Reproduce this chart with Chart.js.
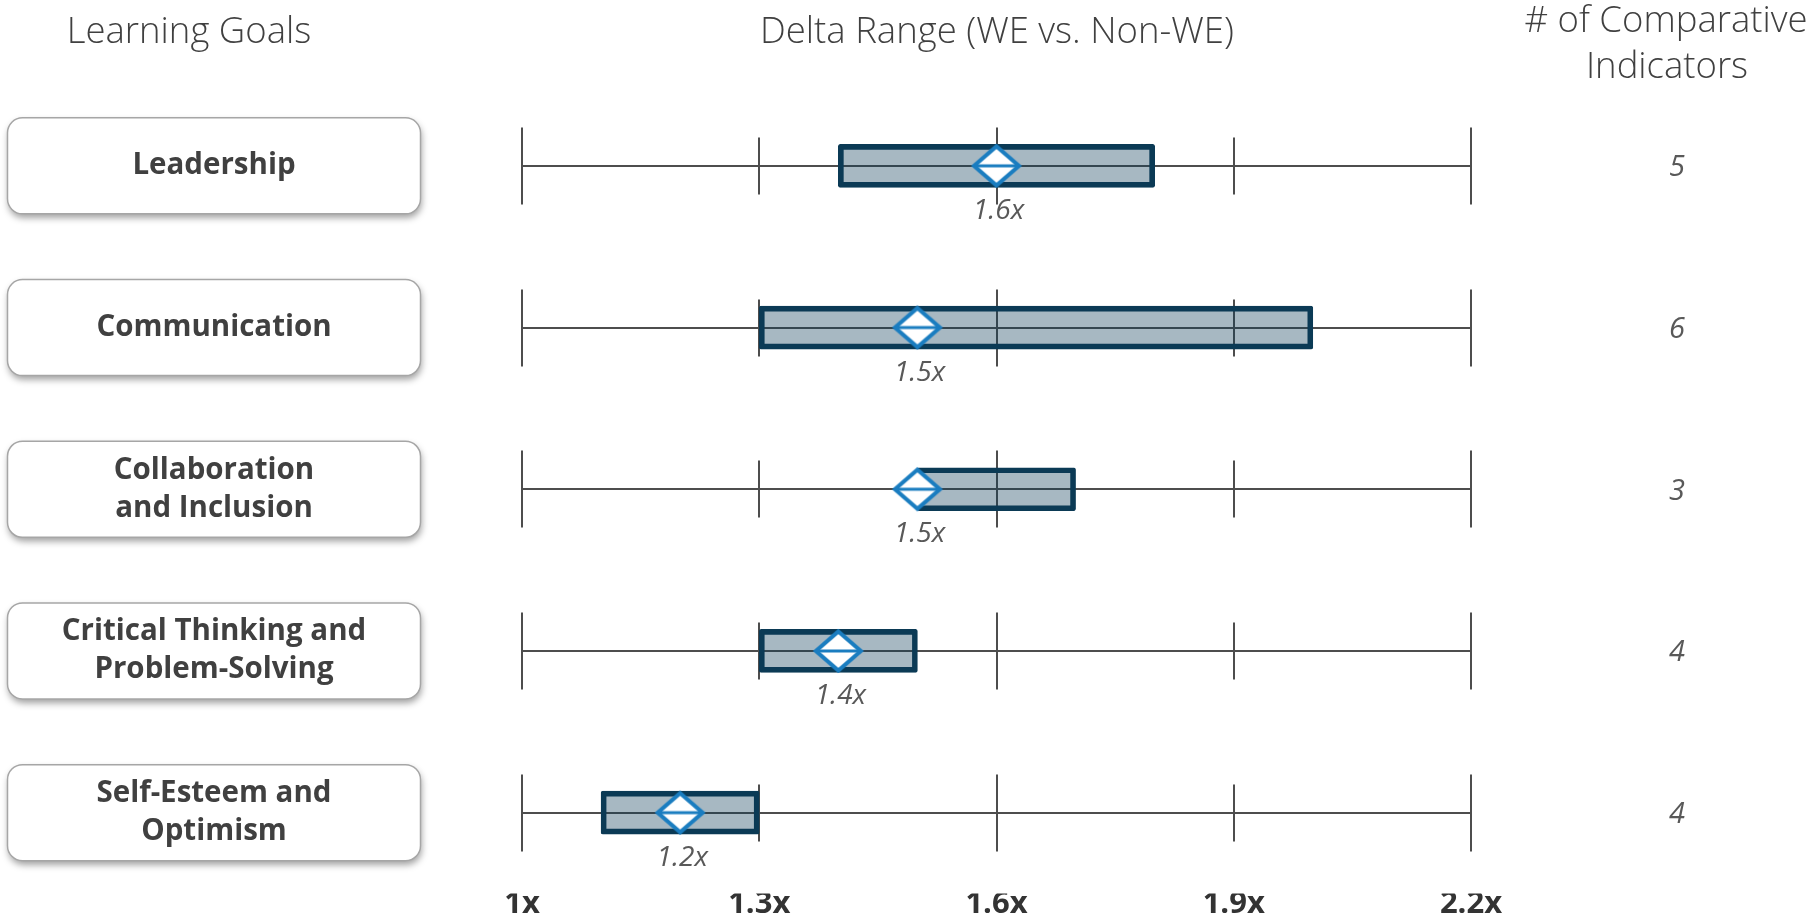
<!DOCTYPE html>
<html>
<head>
<meta charset="utf-8">
<title>Delta Range by Learning Goal</title>
<script src="https://cdn.jsdelivr.net/npm/chart.js@4.4.1/dist/chart.umd.min.js"></script>
<style>
  html, body { margin: 0; padding: 0; background: #fff; }
  #wrap { position: relative; width: 1815px; height: 919px; }
</style>
</head>
<body>
<div id="wrap"><canvas id="myChart" width="1815" height="919"></canvas></div>
<script>
'use strict';

let goals = [['Leadership'], ['Communication'], ['Collaboration', 'and Inclusion'], ['Critical Thinking and', 'Problem-Solving'], ['Self-Esteem and', 'Optimism']];
let lowValues = [1.4, 1.3, 1.5, 1.3, 1.1];
let highValues = [1.8, 2.0, 1.7, 1.5, 1.3];
let meanValues = [1.6, 1.5, 1.5, 1.4, 1.2];
let indicatorCounts = [5, 6, 3, 4, 4];
let axisTicks = [1, 1.3, 1.6, 1.9, 2.2];

// white diamond with a blue outline and a line through the middle
function makeDiamond() {
  let c = document.createElement('canvas');
  c.width = 60;
  c.height = 52;
  let g = c.getContext('2d');
  let cx = 30, cy = 26, hw = 22.5, hh = 19.5;
  g.beginPath();
  g.moveTo(cx, cy - hh);
  g.lineTo(cx + hw, cy);
  g.lineTo(cx, cy + hh);
  g.lineTo(cx - hw, cy);
  g.closePath();
  g.fillStyle = '#ffffff';
  g.fill();
  g.lineWidth = 4;
  g.strokeStyle = '#1a7dc0';
  g.stroke();
  g.beginPath();
  g.moveTo(cx - hw, cy);
  g.lineTo(cx + hw, cy);
  g.lineWidth = 3;
  g.stroke();
  return c;
}

function roundRect(ctx, x, y, w, h, r) {
  ctx.beginPath();
  ctx.moveTo(x + r, y);
  ctx.arcTo(x + w, y, x + w, y + h, r);
  ctx.arcTo(x + w, y + h, x, y + h, r);
  ctx.arcTo(x, y + h, x, y, r);
  ctx.arcTo(x, y, x + w, y, r);
  ctx.closePath();
}

// per-row baseline with tick marks, drawn under the bars
const rowRulers = {
  id: 'rowRulers',
  beforeDatasetsDraw(chart) {
    const { ctx, scales: { x, y } } = chart;
    ctx.save();
    ctx.strokeStyle = '#4d4d4d';
    ctx.lineWidth = 2;
    goals.forEach((g, i) => {
      const py = Math.round(y.getPixelForValue(i));
      ctx.beginPath();
      ctx.moveTo(x.getPixelForValue(axisTicks[0]), py);
      ctx.lineTo(x.getPixelForValue(axisTicks[axisTicks.length - 1]), py);
      axisTicks.forEach((t, k) => {
        const px = Math.round(x.getPixelForValue(t));
        const half = k % 2 === 0 ? 38.5 : 28.5;
        ctx.moveTo(px, py - half);
        ctx.lineTo(px, py + half);
      });
      ctx.stroke();
    });
    ctx.restore();
  }
};

// headers, goal boxes, value labels and indicator counts
const sideText = {
  id: 'sideText',
  afterDatasetsDraw(chart) {
    const { ctx, scales: { x, y } } = chart;
    ctx.save();
    ctx.textAlign = 'center';
    ctx.textBaseline = 'alphabetic';

    ctx.fillStyle = '#404040';
    ctx.font = '300 36.5px "Open Sans"';
    ctx.fillText('Learning Goals', 189, 43);
    ctx.fillText('Delta Range (WE vs. Non-WE)', 997, 43);
    ctx.fillText('# of Comparative', 1666, 32);
    ctx.fillText('Indicators', 1667, 78);

    goals.forEach((g, i) => {
      const py = y.getPixelForValue(i);
      ctx.save();
      ctx.shadowColor = 'rgba(0,0,0,0.38)';
      ctx.shadowBlur = 7;
      ctx.shadowOffsetX = 1;
      ctx.shadowOffsetY = 4;
      roundRect(ctx, 7.5, py - 48, 413, 96, 15);
      ctx.fillStyle = '#ffffff';
      ctx.fill();
      ctx.restore();
      roundRect(ctx, 7.5, py - 48, 413, 96, 15);
      ctx.strokeStyle = '#a6a6a6';
      ctx.lineWidth = 1.5;
      ctx.stroke();

      ctx.fillStyle = '#404040';
      ctx.font = '700 29.5px "Open Sans"';
      ctx.textBaseline = 'middle';
      if (g.length === 1) {
        ctx.fillText(g[0], 214, py);
      } else {
        ctx.fillText(g[0], 214, py - 19);
        ctx.fillText(g[1], 214, py + 19);
      }

      ctx.fillStyle = '#595959';
      ctx.font = 'italic 400 28px "Open Sans"';
      ctx.fillText(meanValues[i].toFixed(1) + 'x', x.getPixelForValue(meanValues[i]) + 2, py + 45);

      ctx.font = 'italic 400 29px "Open Sans"';
      ctx.fillText(String(indicatorCounts[i]), 1677, py + 2);
      ctx.textBaseline = 'alphabetic';
    });
    ctx.restore();
  }
};

let diamond = makeDiamond();
let ctx = document.getElementById('myChart').getContext('2d');

new Chart(ctx, {
  type: 'bar',
  data: {
    labels: goals,
    datasets: [{
      type: 'line',
      label: 'Mean',
      data: meanValues,
      indexAxis: 'y',
      showLine: false,
      pointStyle: diamond,
      pointRadius: 24,
      pointHoverRadius: 24,
      order: 0
    },
    {
      type: 'bar',
      label: 'Range',
      data: lowValues.map((lo, i) => [lo, highValues[i]]),
      backgroundColor: 'rgba(11, 58, 85, 0.36)',
      borderColor: '#0b3a55',
      borderWidth: 5,
      borderSkipped: false,
      borderRadius: 2,
      barThickness: 43,
      order: 1
    }]
  },
  options: {
    indexAxis: 'y',
    responsive: false,
    animation: false,
    devicePixelRatio: 1,
    layout: {
      padding: { left: 522, right: 344, top: 85, bottom: 4.5 }
    },
    plugins: {
      legend: { display: false },
      tooltip: { enabled: false }
    },
    scales: {
      x: {
        type: 'linear',
        min: 1,
        max: 2.2,
        afterBuildTicks: s => { s.ticks = axisTicks.map(v => ({ value: v })); },
        grid: { display: false, drawTicks: false },
        border: { display: false },
        ticks: {
          padding: -5,
          color: '#333333',
          font: { family: 'Open Sans', weight: '700', size: 31, lineHeight: 1 },
          callback: v => (Math.round(v * 10) / 10) + 'x'
        }
      },
      y: {
        display: false
      }
    }
  },
  plugins: [rowRulers, sideText]
});
</script>
</body>
</html>
